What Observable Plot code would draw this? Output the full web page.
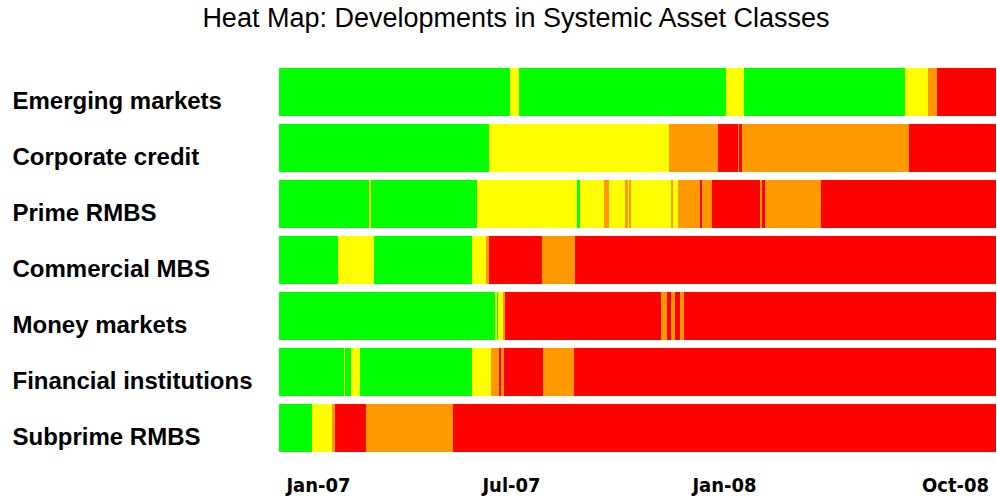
<!DOCTYPE html>
<html>
<head>
<meta charset="utf-8">
<script src="https://cdn.jsdelivr.net/npm/d3@7"></script>
<script src="https://cdn.jsdelivr.net/npm/@observablehq/plot@0.6"></script>
<style>
  html, body { margin: 0; padding: 0; background: #fff; }
  #title { height: 45px; font-family: "Liberation Sans", Arial, sans-serif; font-size: 27px; line-height: 36px;
           text-align: center; padding-left: 35px; box-sizing: border-box; color: #000; white-space: nowrap; }
  svg { display: block; }
</style>
</head>
<body>
<div id="title">Heat Map: Developments in Systemic Asset Classes</div>
<div id="chart"></div>
<script>
// Rows (asset classes), top to bottom
const rowNames = ["Emerging markets", "Corporate credit", "Prime RMBS", "Commercial MBS",
                  "Money markets", "Financial institutions", "Subprime RMBS"];
// Stress levels and their colours
const levelNames = ["Low", "Moderate", "Elevated", "High"];
const levelColors = ["#00ff00", "#ffff00", "#ff9900", "#ff0000"];
// Axis: observation index (days from start of sample) and labels
const tickDays = [39, 232, 445, 676];
const tickLabels = ["Jan-07", "Jul-07", "Jan-08", "Oct-08"];
const sampleLength = 717;

// Regime changes for each row: break points (observation index) and level of each run
const emergingBreaks = [0, 231, 240, 447, 465, 626, 649, 658, 717];
const emergingLevels = [0, 1, 0, 1, 0, 1, 2, 3];
const corporateBreaks = [0, 210, 390, 439, 459, 460, 463, 630, 717];
const corporateLevels = [0, 1, 2, 3, 2, 3, 2, 3];
const primeBreaks = [0, 90, 92, 198, 298, 301, 325, 330, 346, 349, 350, 352, 392, 394, 399, 421, 423, 433, 481, 483, 486, 542, 717];
const primeLevels = [0, 1, 0, 1, 0, 1, 2, 1, 2, 1, 2, 1, 2, 1, 2, 3, 2, 3, 2, 3, 2, 3];
const commercialBreaks = [0, 59, 95, 193, 207, 210, 263, 296, 717];
const commercialLevels = [0, 1, 0, 1, 2, 3, 2, 3];
const moneyBreaks = [0, 216, 218, 219.5, 224, 226, 382, 388, 392, 396, 401, 405, 717];
const moneyLevels = [0, 1, 0, 1, 2, 3, 2, 3, 2, 3, 2, 3];
const financialBreaks = [0, 65, 66, 72, 81, 193, 212, 220, 222, 225, 264, 295, 717];
const financialLevels = [0, 1, 0, 1, 0, 1, 2, 3, 2, 3, 2, 3];
const subprimeBreaks = [0, 33, 53, 56, 87, 174, 717];
const subprimeLevels = [0, 1, 2, 3, 2, 3];

const rowBreaks = [emergingBreaks, corporateBreaks, primeBreaks, commercialBreaks, moneyBreaks, financialBreaks, subprimeBreaks];
const rowLevels = [emergingLevels, corporateLevels, primeLevels, commercialLevels, moneyLevels, financialLevels, subprimeLevels];

const segments = rowNames.flatMap((row, r) =>
  rowLevels[r].map((lv, i) => ({row, start: rowBreaks[r][i], end: rowBreaks[r][i + 1], level: levelNames[lv]}))
);

const chart = Plot.plot({
  width: 997,
  height: 454,
  marginTop: 18,
  marginBottom: 43,
  marginLeft: 279,
  marginRight: 1,
  style: {background: "#fff"},
  x: {domain: [0, sampleLength], axis: null},
  y: {domain: rowNames, paddingInner: 0.145, paddingOuter: 0.0725, axis: null},
  color: {domain: levelNames, range: levelColors},
  marks: [
    Plot.barX(segments, {x1: "start", x2: "end", y: "row", fill: "level"}),
    Plot.axisX(tickDays, {
      tickSize: 0, tickPadding: 21,
      tickFormat: d => tickLabels[tickDays.indexOf(d)],
      fontSize: 20, fontWeight: "bold", fill: "#000",
      fontFamily: "'DejaVu Sans Condensed', 'DejaVu Sans', sans-serif"
    }),
    Plot.text(rowNames, {
      y: d => d, frameAnchor: "left", dx: -267, dy: 9, textAnchor: "start",
      fontSize: 24, fontWeight: "bold", fill: "#000",
      fontFamily: "'Liberation Sans', Arial, sans-serif"
    })
  ]
});
document.getElementById("chart").appendChild(chart);
</script>
</body>
</html>
